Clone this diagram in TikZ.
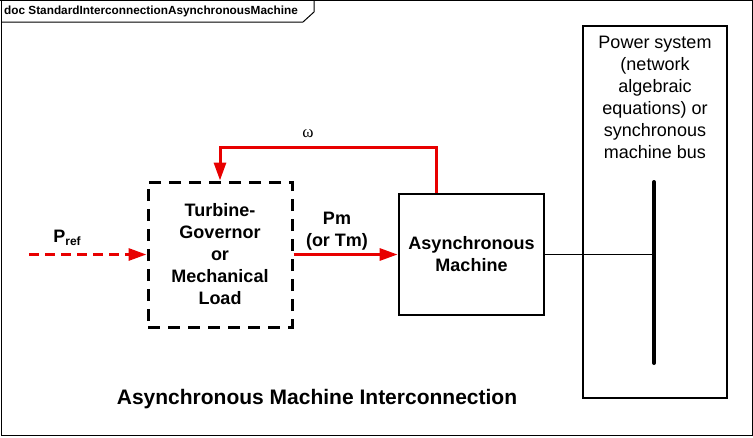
\documentclass[tikz,border=0pt]{standalone}
\usepackage{fontspec}
\setmainfont{Liberation Sans}
\newfontfamily\grkfont{Liberation Serif}
\usetikzlibrary{arrows.meta, positioning}

\definecolor{sigred}{RGB}{232,0,0}

\tikzset{
  sig/.style={sigred, line width=3pt},
  govbox/.style={draw, line width=3pt, dash pattern=on 12pt off 8pt,
    minimum width=144pt, minimum height=145pt, align=center,
    font=\fontsize{18}{22}\selectfont\bfseries},
  machbox/.style={draw, line width=2.8pt, minimum width=145pt,
    minimum height=121pt, align=center,
    font=\fontsize{18}{22}\selectfont\bfseries},
  sysbox/.style={draw, line width=2.8pt, minimum width=144pt,
    minimum height=372pt},
  lbl/.style={align=center, inner sep=0pt,
    font=\fontsize{18}{22}\selectfont\bfseries}
}

\begin{document}
\begin{tikzpicture}[x=1pt, y=-1pt, >={Triangle[length=18pt,width=12pt]}]
  \useasboundingbox (0,0) rectangle (753,437);
  % frame with tab
  \draw[line width=1pt] (1.5,0) -- (1.5,435.5) -- (752,435.5) -- (752,0);
  \draw[line width=1pt] (0,0.5) -- (753,0.5);
  \draw[line width=1pt] (1.5,22) -- (303,22) -- (314,12) -- (314,0);
  \node[anchor=west, inner sep=0pt, font=\fontsize{11.8}{13}\selectfont\bfseries]
    (doclbl) at (4,11) {doc StandardInterconnectionAsynchronousMachine};
  % power system side
  \node[sysbox] (sys) at (655,212) {};
  \node[anchor=north, align=center, inner sep=0pt,
    font=\fontsize{18}{22}\selectfont] (systxt) at (655,36)
    {Power system\\(network\\algebraic\\equations) or\\synchronous\\machine bus};
  \coordinate (bustop) at (654,182);
  \coordinate (busbot) at (654,363);
  \draw[line width=4pt, line cap=round] (bustop) -- (busbot);
  % blocks
  \node[govbox] (gov) at (220,254.5) {Turbine-\\Governor\\or\\Mechanical\\Load};
  \node[machbox] (mach) at (471.5,254.5) {Asynchronous\\Machine};
  \draw[line width=1pt] (mach.east) -- (mach.east -| bustop);
  % signals
  \draw[sig, ->] (gov.east) -- (mach.west);
  \node[lbl] (pmlbl) at (337,231) {Pm\\(or Tm)};
  \coordinate (fb) at (436,147);
  \draw[sig, ->] (fb |- mach.north) -- (fb) -| (gov.north);
  \node[inner sep=0pt, font=\fontsize{17}{17}\selectfont\grkfont] (wlbl) at (308,134) {ω};
  \coordinate (refin) at (29,254.5);
  \draw[sig, dash pattern=on 10pt off 6pt, ->] (refin) -- (gov.west);
  \node[inner sep=0pt, font=\fontsize{18}{22}\selectfont\bfseries] (preflbl) at (67,238)
    {P{\fontsize{12}{12}\selectfont\raisebox{-3pt}{ref}}};
  % caption
  \node[inner sep=0pt, font=\fontsize{21}{24}\selectfont\bfseries] (title) at (317,399)
    {Asynchronous Machine Interconnection};
\end{tikzpicture}
\end{document}
